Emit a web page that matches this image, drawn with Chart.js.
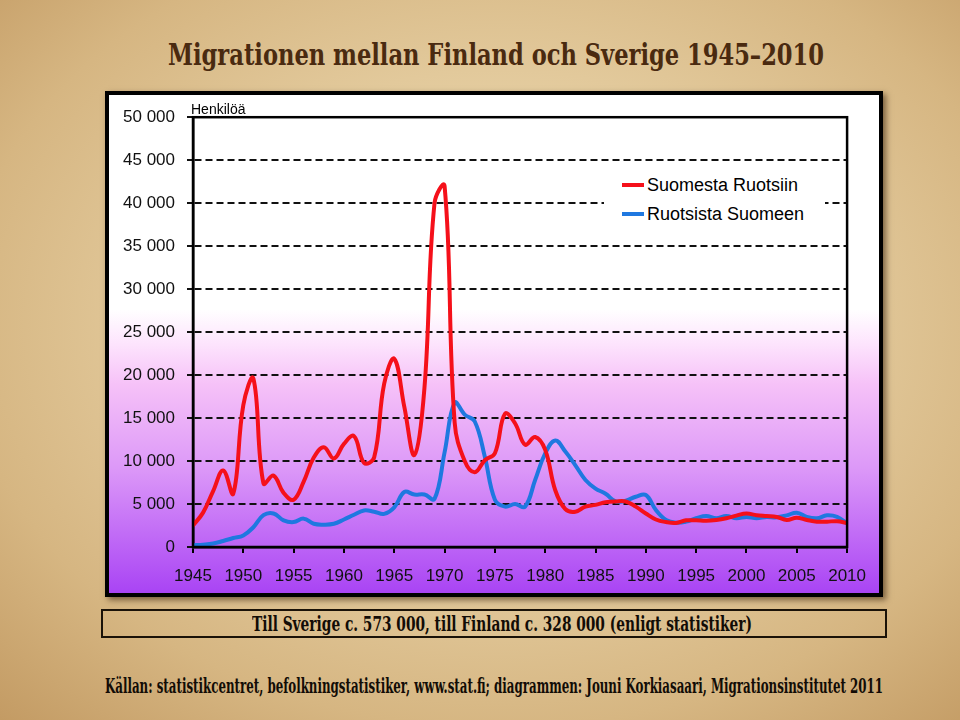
<!DOCTYPE html>
<html><head><meta charset="utf-8">
<script src="https://cdn.jsdelivr.net/npm/chart.js@4.4.0/dist/chart.umd.min.js"></script>
<style>
html,body{margin:0;padding:0;}
body{width:960px;height:720px;position:relative;overflow:hidden;
 background: radial-gradient(ellipse 80% 80% at 52% 45%, #eddbb6 0%, #e4cc9f 40%, #d6b682 70%, #bf955d 100%);}
.fit{position:absolute;white-space:nowrap;transform-origin:0 0;line-height:1;}
#title{font-family:'DejaVu Serif Condensed','DejaVu Serif',serif;font-weight:bold;font-size:29px;color:#4a2a10;top:41px;}
#total{font-family:'DejaVu Serif Condensed','DejaVu Serif',serif;font-weight:bold;font-size:20px;color:#120c06;top:614px;}
#source{font-family:'DejaVu Serif Condensed','DejaVu Serif',serif;font-weight:bold;font-size:20px;color:#120c06;top:676px;}
#totalBox{position:absolute;left:101px;top:609px;width:786px;height:29px;border:2px solid #1a1208;box-sizing:border-box;}
#box{position:absolute;left:105px;top:91px;width:778px;height:506px;border:4px solid #000;box-sizing:border-box;
 background:linear-gradient(to bottom,#ffffff 0%,#ffffff 43%,#fde4fd 50%,#f6c2f8 58%,#dc98f8 75%,#a944f4 100%);
 box-shadow:3px 3px 6px rgba(40,20,0,0.55);}
#box canvas{position:absolute;left:0;top:0;}
#unit{position:absolute;left:191px;top:102px;font-family:'Liberation Sans',Arial,sans-serif;font-size:14px;line-height:1;color:#000;}
#legend{position:absolute;left:604px;top:168px;width:221px;height:62px;background:#fff;}
.lg{position:absolute;left:18px;height:18px;}
.lg .sw{position:absolute;left:0;top:7px;width:22px;height:4px;}
.lg .tx{position:absolute;left:25px;top:0;font-family:'Liberation Sans',Arial,sans-serif;font-size:18px;line-height:18px;color:#000;white-space:nowrap;}
</style>
</head>
<body>
<div id="title" class="fit" data-left="168" data-width="656">Migrationen mellan Finland och Sverige 1945–2010</div>
<div id="box"><canvas id="c" width="770" height="498"></canvas></div>
<div id="unit">Henkilöä</div>
<div id="legend"></div>
<div id="totalBox"></div>
<div id="total" class="fit" data-left="252" data-width="500">Till Sverige c. 573 000, till Finland c. 328 000 (enligt statistiker)</div>
<div id="source" class="fit" data-left="105" data-width="778">Källan: statistikcentret, befolkningstatistiker, www.stat.fi; diagrammen: Jouni Korkiasaari, Migrationsinstitutet 2011</div>
<script>
// ---- data ----
const years = [1945,1946,1947,1948,1949,1950,1951,1952,1953,1954,1955,1956,1957,1958,1959,
  1960,1961,1962,1963,1964,1965,1966,1967,1968,1969,1970,1971,1972,1973,1974,1975,1976,1977,
  1978,1979,1980,1981,1982,1983,1984,1985,1986,1987,1988,1989,1990,1991,1992,1993,1994,1995,
  1996,1997,1998,1999,2000,2001,2002,2003,2004,2005,2006,2007,2008,2009,2010];
const suomestaRuotsiin = [2500,4000,6500,8900,6200,16500,19600,7400,8300,6300,5500,7600,10400,11600,10300,
  12000,12900,9800,10400,19000,21900,16300,10700,18500,40000,42000,14500,10000,8700,10100,10900,15500,14400,
  11900,12800,11300,6600,4400,4100,4700,4900,5200,5300,5300,4700,3900,3200,2900,2800,3100,3100,
  3050,3150,3350,3650,3900,3700,3600,3500,3150,3400,3150,2950,2950,3000,2800];
const ruotsistaSuomeen = [200,270,400,700,1050,1350,2300,3700,3900,3100,2900,3300,2700,2600,2700,
  3200,3750,4250,4100,3850,4600,6400,6100,6100,5600,11000,16800,15400,14600,10500,5500,4700,5000,
  4700,7800,10900,12400,11100,9500,7800,6800,6200,5300,5400,5850,6050,4300,3150,2830,2950,3340,
  3600,3340,3600,3340,3500,3340,3500,3450,3680,3990,3500,3340,3680,3500,2750];
const seriesNames = ['Suomesta Ruotsiin','Ruotsista Suomeen'];
const seriesColors = ['#f5101a','#1f78e0'];
const yMin = 0, yMax = 50000, yStep = 5000;
const xMin = 1945, xMax = 2010, xStep = 5;

function pts(vals){ return years.map((y,i)=>({x:y,y:vals[i]})); }

const frame = {
  id:'frame',
  afterDraw(chart){
    const {ctx, chartArea:a} = chart;
    ctx.save();
    ctx.strokeStyle = '#000';
    ctx.lineWidth = 2.5;
    ctx.strokeRect(a.left, a.top, a.right-a.left, a.bottom-a.top);
    ctx.restore();
  }
};

const chart = new Chart(document.getElementById('c'), {
  type:'line',
  data:{
    datasets:[
      {label:seriesNames[0], data:pts(suomestaRuotsiin), borderColor:seriesColors[0], backgroundColor:seriesColors[0]},
      {label:seriesNames[1], data:pts(ruotsistaSuomeen), borderColor:seriesColors[1], backgroundColor:seriesColors[1]}
    ]
  },
  options:{
    responsive:false, animation:false, devicePixelRatio:1,
    layout:{padding:{top:22,right:20,left:0,bottom:0}},
    elements:{line:{borderWidth:4,tension:0.4,borderJoinStyle:'round',borderCapStyle:'round'},point:{radius:0}},
    plugins:{legend:{display:false},title:{display:false},tooltip:{enabled:false}},
    scales:{
      x:{type:'linear',min:xMin,max:xMax,
        ticks:{stepSize:xStep,autoSkip:false,maxRotation:0,padding:13,color:'#111',
          font:{family:"'Liberation Sans', Arial, sans-serif",size:17},callback:v=>String(v)},
        grid:{drawOnChartArea:false,drawTicks:true,tickLength:6,color:'#000',lineWidth:2},
        border:{display:true,color:'#000',width:2.5},
        afterFit(s){ s.height = 46; }
      },
      y:{min:yMin,max:yMax,
        ticks:{stepSize:yStep,padding:12,color:'#111',
          font:{family:"'Liberation Sans', Arial, sans-serif",size:17},
          callback:v=> v===0 ? '0' : (v/1000)+' 000'},
        grid:{color:'#111',lineWidth:2,tickLength:6,drawTicks:true},
        border:{display:true,color:'#000',width:2.5,dash:[7,4]},
        afterFit(s){ s.width = 84; }
      }
    }
  },
  plugins:[frame]
});

// HTML legend from the chart's datasets
const lg = document.getElementById('legend');
chart.data.datasets.forEach((ds,i)=>{
  const row = document.createElement('div');
  row.className='lg'; row.style.top = (8 + i*29) + 'px';
  row.innerHTML = '<div class="sw" style="background:'+ds.borderColor+'"></div><div class="tx">'+ds.label+'</div>';
  lg.appendChild(row);
});

// fit condensed display texts to their widths
document.querySelectorAll('.fit').forEach(el=>{
  el.style.left = el.dataset.left+'px';
  const w = el.getBoundingClientRect().width;
  el.style.transform = 'scaleX('+(parseFloat(el.dataset.width)/w)+')';
});
</script>
</body></html>
